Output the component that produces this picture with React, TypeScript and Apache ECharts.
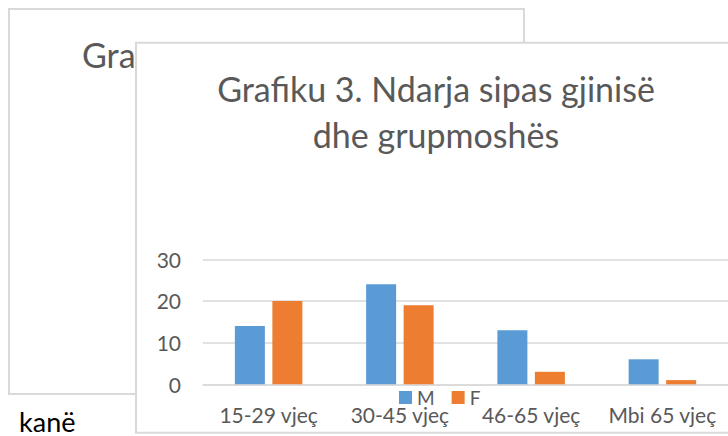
import React, { useEffect, useRef } from "react";
import * as echarts from "echarts";

const categories = ["15-29 vjeç", "30-45 vjeç", "46-65 vjeç", "Mbi 65 vjeç"];
const seriesNames = ["M", "F"];
const maleValues = [14, 24, 13, 6];
const femaleValues = [20, 19, 3, 1];
const yTicks = [0, 10, 20, 30];
const titleLines = ["Grafiku 3. Ndarja sipas gjinisë", "dhe grupmoshës"];
const backTitle = "Gra";
const bodyText = "kanë";

const FONT = "Lato";
const TEXT_GRAY = "#595959";
const LINE_GRAY = "#d9d9d9";
const BLUE = "#5b9bd5";
const ORANGE = "#ed7d31";

export default function App() {
  const ref = useRef<HTMLDivElement>(null);

  useEffect(() => {
    document.body.style.margin = "0";
    const chart = echarts.init(ref.current as HTMLDivElement, null, { renderer: "svg" });
    chart.setOption({
      animation: false,
      backgroundColor: "#ffffff",
      textStyle: { fontFamily: FONT },
      graphic: [
        {
          type: "rect",
          z: 1,
          shape: { x: 9, y: 9, width: 515, height: 385 },
          style: { fill: "#ffffff", stroke: LINE_GRAY, lineWidth: 2 },
        },
        {
          type: "text",
          z: 2,
          x: 82,
          y: 54,
          style: {
            text: backTitle,
            fontFamily: FONT,
            fontSize: 34,
            fill: TEXT_GRAY,
            align: "left",
            verticalAlign: "middle",
          },
        },
        {
          type: "rect",
          z: 3,
          shape: { x: 136, y: 42.7, width: 640, height: 390 },
          style: { fill: "#ffffff", stroke: LINE_GRAY, lineWidth: 2 },
        },
        {
          type: "text",
          z: 4,
          x: 436,
          y: 88,
          style: {
            text: titleLines[0],
            fontFamily: FONT,
            fontSize: 34,
            fill: TEXT_GRAY,
            align: "center",
            verticalAlign: "middle",
          },
        },
        {
          type: "text",
          z: 4,
          x: 436,
          y: 134,
          style: {
            text: titleLines[1],
            fontFamily: FONT,
            fontSize: 34,
            fill: TEXT_GRAY,
            align: "center",
            verticalAlign: "middle",
          },
        },
        {
          type: "text",
          z: 4,
          x: 19,
          y: 421,
          style: {
            text: bodyText,
            fontFamily: FONT,
            fontSize: 27,
            fill: "#000000",
            align: "left",
            verticalAlign: "middle",
          },
        },
      ],
      grid: { left: 203, right: -7, top: 259.3, bottom: 51.7, containLabel: false },
      legend: {
        data: seriesNames,
        left: 399,
        top: 388,
        padding: 0,
        itemWidth: 13,
        itemHeight: 13,
        itemGap: 17,
        icon: "rect",
        z: 8,
        textStyle: { color: TEXT_GRAY, fontSize: 19, lineHeight: 15, fontFamily: FONT },
      },
      xAxis: {
        type: "category",
        data: categories,
        z: 6,
        axisLine: { lineStyle: { color: LINE_GRAY, width: 1.5 } },
        axisTick: { show: false },
        axisLabel: {
          color: TEXT_GRAY,
          fontSize: 21,
          lineHeight: 21,
          margin: 20,
          fontFamily: FONT,
          interval: 0,
          hideOverlap: false,
        },
      },
      yAxis: {
        type: "value",
        min: yTicks[0],
        max: yTicks[yTicks.length - 1],
        interval: yTicks[1] - yTicks[0],
        z: 6,
        axisLine: { show: false },
        axisTick: { show: false },
        splitLine: { lineStyle: { color: LINE_GRAY, width: 1.5 } },
        axisLabel: { color: TEXT_GRAY, fontSize: 21, margin: 22, fontFamily: FONT },
      },
      series: [
        {
          name: seriesNames[0],
          type: "bar",
          data: maleValues,
          barWidth: 30,
          barGap: "25%",
          z: 7,
          itemStyle: { color: BLUE },
        },
        {
          name: seriesNames[1],
          type: "bar",
          data: femaleValues,
          barWidth: 30,
          barGap: "25%",
          z: 7,
          itemStyle: { color: ORANGE },
        },
      ],
    });
    return () => chart.dispose();
  }, []);

  return (
    <div
      ref={ref}
      style={{ position: "absolute", left: 0, top: 0, width: 728, height: 436 }}
    />
  );
}
